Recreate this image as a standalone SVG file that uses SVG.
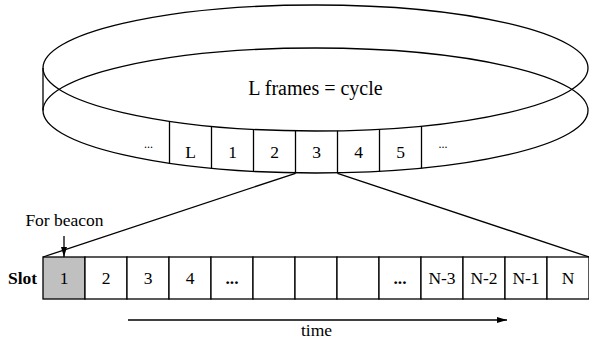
<svg xmlns="http://www.w3.org/2000/svg" width="589" height="341" viewBox="0 0 589 341" font-family="'Liberation Serif', 'Times New Roman', serif">
<style>
.ln{fill:none;stroke:#000;stroke-width:1.3}
.cell{fill:#fff;stroke:#000;stroke-width:1.3}
.gray{fill:#c0c0c0;stroke:#000;stroke-width:1.3}
text{fill:#000;text-anchor:middle}
.t{font-size:17.5px}
.big{font-size:20px}
.dots{font-size:12px}
.b{font-weight:bold}
</style>
<defs>
<marker id="ah" markerUnits="userSpaceOnUse" markerWidth="12" markerHeight="8" refX="10" refY="4" orient="auto">
<path d="M0,1 L10,4 L0,7 Z" fill="#000"/>
</marker>
</defs>
<rect width="589" height="341" fill="#fff"/>
<g id="cycle">
<ellipse class="ln" cx="315.5" cy="68" rx="272.5" ry="63"/>
<ellipse class="ln" cx="315.5" cy="110.5" rx="272.5" ry="62.5"/>
<line class="ln" x1="43" y1="68" x2="43" y2="110.5"/>
<text class="big" x="315.5" y="95" font-family="'Liberation Serif', serif">L frames = cycle</text>
</g>
<g id="frames" font-family="'Liberation Serif', serif">
<line class="ln" x1="169.5" y1="121.2" x2="169.5" y2="163.7"/>
<line class="ln" x1="211.5" y1="126.2" x2="211.5" y2="168.7"/>
<line class="ln" x1="253.5" y1="129.3" x2="253.5" y2="171.9"/>
<line class="ln" x1="295.5" y1="130.8" x2="295.5" y2="173.3"/>
<line class="ln" x1="337.5" y1="130.8" x2="337.5" y2="173.3"/>
<line class="ln" x1="379.5" y1="129.2" x2="379.5" y2="171.7"/>
<line class="ln" x1="421.5" y1="126" x2="421.5" y2="168.5"/>
<text class="dots" x="148.5" y="148">...</text>
<text class="t" x="190.5" y="158">L</text>
<text class="t" x="232.5" y="158">1</text>
<text class="t" x="274.5" y="158">2</text>
<text class="t" x="316.5" y="158">3</text>
<text class="t" x="358.5" y="158">4</text>
<text class="t" x="400.5" y="158">5</text>
<text class="dots" x="443" y="148">...</text>
</g>
<g id="slots" font-family="'Liberation Serif', serif">
<rect class="gray" x="43" y="257" width="42" height="42"/>
<rect class="cell" x="85" y="257" width="42" height="42"/>
<rect class="cell" x="127" y="257" width="42" height="42"/>
<rect class="cell" x="169" y="257" width="42" height="42"/>
<rect class="cell" x="211" y="257" width="42" height="42"/>
<rect class="cell" x="253" y="257" width="42" height="42"/>
<rect class="cell" x="295" y="257" width="42" height="42"/>
<rect class="cell" x="337" y="257" width="42" height="42"/>
<rect class="cell" x="379" y="257" width="42" height="42"/>
<rect class="cell" x="421" y="257" width="42" height="42"/>
<rect class="cell" x="463" y="257" width="42" height="42"/>
<rect class="cell" x="505" y="257" width="42" height="42"/>
<rect class="cell" x="547" y="257" width="42" height="42"/>
<text class="t b" x="22.5" y="284">Slot</text>
<text class="t" x="64" y="284">1</text>
<text class="t" x="106" y="284">2</text>
<text class="t" x="148" y="284">3</text>
<text class="t" x="190" y="284">4</text>
<text class="t b" x="232" y="284">...</text>
<text class="t b" x="400" y="284">...</text>
<text class="t" x="442" y="284">N-3</text>
<text class="t" x="484" y="284">N-2</text>
<text class="t" x="526" y="284">N-1</text>
<text class="t" x="568" y="284">N</text>
</g>
<g id="connectors">
<line class="ln" x1="295.5" y1="173.3" x2="43" y2="257"/>
<line class="ln" x1="337.5" y1="173.3" x2="589" y2="257"/>
<line class="ln" x1="64" y1="236" x2="64" y2="257" marker-end="url(#ah)"/>
<line class="ln" x1="128" y1="320" x2="507" y2="320" marker-end="url(#ah)"/>
</g>
<g id="labels" font-family="'Liberation Serif', serif">
<text class="t" x="64.5" y="226">For beacon</text>
<text class="t" x="316.5" y="336">time</text>
</g>
</svg>
